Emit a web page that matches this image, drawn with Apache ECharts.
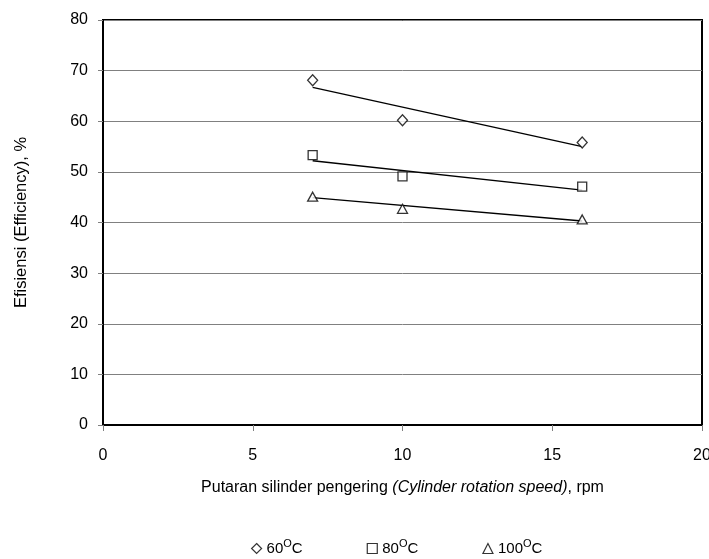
<!DOCTYPE html>
<html>
<head>
<meta charset="utf-8">
<script src="https://cdn.jsdelivr.net/npm/echarts@6/dist/echarts.min.js"></script>
<style>html,body{margin:0;padding:0;background:#fff}#c{width:709px;height:559px}</style>
</head>
<body>
<div id="c"></div>
<script>
const speeds = [7, 10, 16];
const eff60 = [68.1, 60.2, 55.8];
const eff80 = [53.3, 49.1, 47.1];
const eff100 = [45.1, 42.7, 40.6];
const trendX = [7, 16];
const trend60 = [66.7, 55.0];
const trend80 = [52.2, 46.4];
const trend100 = [44.9, 40.3];
const seriesNames = ['60', '80', '100'];
const xTicks = [0, 5, 10, 15, 20];
const yTicks = [0, 10, 20, 30, 40, 50, 60, 70, 80];

const pts = (xs, ys) => xs.map((x, i) => [x, ys[i]]);
const FONT = '"Liberation Sans", Arial, sans-serif';
const diamond = 'path://M0,-1L1,0L0,1L-1,0Z';

const chart = echarts.init(document.getElementById('c'), null, {renderer: 'canvas'});
const markerStyle = {color: '#fff', borderColor: '#000', borderWidth: 1.3};
function scatter(name, sym, ys, size) {
  return {name: name, type: 'scatter', symbol: sym, symbolSize: size,
    data: pts(speeds, ys), itemStyle: markerStyle, z: 5};
}
function trend(ys) {
  return {type: 'line', data: pts(trendX, ys), symbol: 'none',
    lineStyle: {color: '#000', width: 1.3}, silent: true, z: 3};
}
chart.setOption({
  animation: false,
  backgroundColor: '#fff',
  textStyle: {fontFamily: FONT},
  grid: {left: 103, right: 7, top: 20, bottom: 134, show: true,
    outerBoundsMode: 'none', containLabel: false,
    borderColor: '#000', borderWidth: 2, backgroundColor: 'transparent'},
  xAxis: {
    type: 'value', min: xTicks[0], max: xTicks[xTicks.length - 1], interval: 5,
    name: 'Putaran silinder pengering {i|(Cylinder rotation speed)}, rpm',
    nameLocation: 'middle', nameGap: 55,
    nameTextStyle: {fontFamily: FONT, fontSize: 16, color: '#000',
      rich: {i: {fontFamily: FONT, fontSize: 16, fontStyle: 'italic', color: '#000'}}},
    axisLine: {lineStyle: {color: '#000', width: 2}},
    axisTick: {show: true, inside: false, length: 6, lineStyle: {color: '#808080'}},
    axisLabel: {fontFamily: FONT, fontSize: 16, color: '#000', margin: 23},
    splitLine: {show: false}
  },
  yAxis: {
    type: 'value', min: yTicks[0], max: yTicks[yTicks.length - 1], interval: 10,
    name: 'Efisiensi (Efficiency), %', nameLocation: 'middle', nameGap: 73,
    nameTextStyle: {fontFamily: FONT, fontSize: 16.5, color: '#000'},
    axisLine: {lineStyle: {color: '#000', width: 2}},
    axisTick: {show: true, inside: false, length: 5, lineStyle: {color: '#808080'}},
    axisLabel: {fontFamily: FONT, fontSize: 16, color: '#000', margin: 15},
    splitLine: {show: true, lineStyle: {color: '#808080', width: 1}}
  },
  legend: {
    bottom: -2, left: 246, itemGap: 64, itemWidth: 10, itemHeight: 10,
    data: [
      {name: seriesNames[0], icon: diamond},
      {name: seriesNames[1], icon: 'rect'},
      {name: seriesNames[2], icon: 'triangle'}
    ],
    itemStyle: {color: '#fff', borderColor: '#000', borderWidth: 1.2},
    formatter: n => n + '{s|O}C',
    textStyle: {fontFamily: FONT, fontSize: 15, color: '#000',
      rich: {s: {fontFamily: FONT, fontSize: 11, color: '#000', padding: [0, 0, 9, 0]}}}
  },
  series: [
    trend(trend60), trend(trend80), trend(trend100),
    scatter(seriesNames[0], diamond, eff60, [10, 11]),
    scatter(seriesNames[1], 'rect', eff80, 9),
    scatter(seriesNames[2], 'triangle', eff100, [10, 9])
  ]
});
</script>
</body>
</html>
